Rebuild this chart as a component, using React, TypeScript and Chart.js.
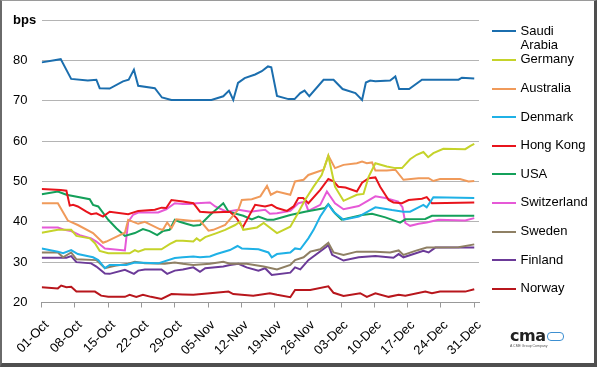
import React, { useEffect, useRef } from 'react';
import { Chart, registerables } from 'chart.js';
Chart.register(...registerables);

// x values are days after 01-Oct
const tickLabels = ['01-Oct', '08-Oct', '15-Oct', '22-Oct', '29-Oct', '05-Nov', '12-Nov', '19-Nov', '26-Nov', '03-Dec', '10-Dec', '17-Dec', '24-Dec', '31-Dec'];

const saudiArabia: [number, number][] = [[0, 79.5], [4, 80.3], [6.2, 75.4], [9.7, 75.0], [11.5, 75.2], [12.2, 73.1], [14.3, 73.0], [17.1, 74.8], [18.3, 75.2], [19.4, 77.7], [20.3, 73.7], [23.8, 73.1], [25.3, 70.8], [27.3, 70.2], [35.7, 70.2], [38.2, 71.1], [39.4, 72.5], [40.3, 70.2], [41.3, 74.4], [42.7, 75.6], [44.9, 76.5], [46.3, 77.3], [47.6, 78.5], [48.3, 78.3], [49.5, 71.2], [51.9, 70.4], [53.2, 70.4], [54.4, 71.9], [55.3, 72.5], [56.3, 71.1], [59.3, 75.2], [61.4, 75.2], [63.3, 72.9], [66, 71.9], [67.4, 70.2], [68.2, 74.5], [69.1, 75.0], [70.2, 74.8], [73.3, 75.0], [74.4, 76.0], [75.2, 72.9], [77.3, 72.9], [80, 75.2], [87.7, 75.2], [88.4, 75.7], [91, 75.5]];

const germany: [number, number][] = [[0, 37.3], [3.4, 38.0], [6.2, 38.0], [7.3, 36.5], [10.1, 35.9], [11.2, 34.7], [12.2, 32.8], [14, 32.2], [18.5, 32.2], [19.6, 33.0], [20.3, 32.6], [21.7, 33.2], [25.2, 33.2], [27, 34.5], [28.3, 35.3], [29.7, 35.3], [31.9, 35.1], [32.6, 35.9], [33.3, 35.3], [34.4, 36.2], [36.8, 37.2], [38.6, 38.0], [40.7, 39.2], [41.7, 40.0], [42.4, 38.0], [45.3, 38.6], [46.7, 39.7], [49.5, 37.2], [52.3, 38.8], [53.7, 41.7], [55.4, 45.4], [57.2, 48.7], [58.9, 51.6], [60.3, 56.3], [61.7, 48.7], [63.5, 45.2], [66.3, 46.7], [67.7, 46.9], [68.8, 51.2], [70.2, 54.5], [72.6, 53.7], [74.4, 53.3], [75.8, 53.3], [77.5, 55.5], [78.9, 56.6], [80.3, 57.3], [81.3, 56.0], [82.4, 57.0], [84.5, 58.1], [89.1, 58.0], [90.2, 58.8], [91, 59.3]];

const australia: [number, number][] = [[0, 44.6], [3.4, 44.6], [5.5, 40.3], [7.6, 39.2], [10.8, 37.2], [12.9, 34.8], [13.6, 35.1], [16.1, 36.5], [17.5, 37.3], [18.2, 40.5], [20.3, 39.5], [21.7, 40.0], [24.8, 38.2], [25.5, 38.0], [26.4, 39.8], [27.3, 38.4], [28.3, 40.6], [31.9, 40.2], [33.3, 40.3], [35.1, 37.8], [36.1, 38.0], [38.6, 39.2], [41.4, 43.1], [42.1, 45.4], [44.2, 45.6], [46, 46.3], [47.4, 48.9], [48.2, 46.7], [49.5, 47.5], [52.3, 46.7], [53.3, 50.0], [55.1, 50.4], [56.1, 51.6], [59.3, 52.9], [60.3, 56.4], [61.7, 53.3], [63.5, 54.1], [66.3, 54.5], [67.4, 54.9], [68.4, 54.5], [69.5, 54.7], [70.2, 52.7], [72.6, 52.7], [74.4, 52.9], [76.1, 50.4], [79.3, 50.8], [81.4, 50.8], [82.4, 50.1], [83.8, 50.6], [88, 50.6], [89.8, 50.0], [91, 50.1]];

const denmark: [number, number][] = [[0, 33.4], [3.4, 32.6], [4.5, 32.2], [6.2, 33.0], [7.6, 32.0], [10.8, 31.2], [11.9, 30.5], [13.3, 28.5], [14.3, 29.3], [17.8, 29.3], [19.6, 29.9], [24.5, 29.7], [28, 31.0], [29.7, 31.2], [31.9, 31.4], [33.3, 31.2], [35.4, 31.4], [36.8, 32.0], [39.6, 33.0], [41.2, 34.0], [42.1, 33.4], [45.6, 33.2], [47.7, 32.4], [48.4, 31.2], [49.5, 32.0], [52.3, 32.4], [53.3, 33.4], [54.4, 33.2], [56.1, 35.9], [57.2, 38.0], [58.6, 41.3], [60.3, 44.3], [61.4, 42.5], [63.5, 40.5], [66.7, 41.3], [70.2, 43.6], [73.7, 42.9], [76.1, 42.5], [77.5, 42.5], [80.3, 44.2], [81, 43.6], [82.4, 46.1], [91, 45.9]];

const hongKong: [number, number][] = [[0, 48.1], [4, 47.9], [5.2, 47.7], [5.9, 44.0], [6.6, 44.2], [7.6, 43.8], [9.4, 42.5], [10.4, 41.9], [11.5, 42.1], [12.9, 41.3], [14.3, 42.5], [18.2, 41.9], [20.3, 42.7], [23.8, 43.0], [25.2, 43.5], [26.2, 43.4], [27.3, 45.4], [29.7, 45.0], [31.9, 44.6], [33.3, 42.5], [35.4, 42.3], [39.6, 42.5], [41, 40.9], [42.3, 38.6], [44.9, 44.2], [47, 43.8], [48.4, 44.2], [49.5, 43.4], [51.6, 42.7], [53, 43.8], [54, 45.9], [55, 45.9], [56.1, 44.6], [58.6, 47.9], [60.3, 50.6], [61.4, 50.0], [62.4, 48.7], [63.9, 48.5], [66.3, 47.5], [67.4, 49.7], [68.8, 50.8], [70.2, 51.0], [71.2, 48.7], [73, 45.4], [74, 44.8], [75.8, 44.6], [77.2, 45.4], [80, 45.7], [81, 46.1], [82.1, 44.6], [91, 44.8]];

const usa: [number, number][] = [[0, 46.8], [3.4, 47.5], [5.2, 46.7], [10.1, 45.6], [10.8, 44.2], [11.9, 43.8], [14, 40.5], [15.7, 38.4], [17.5, 36.5], [19.6, 37.2], [21.3, 38.2], [22.7, 37.7], [24.3, 36.7], [25.5, 37.7], [26.9, 38.0], [28, 40.5], [29, 40.0], [30.4, 39.5], [31.9, 39.0], [33.3, 39.2], [35.4, 41.7], [38.2, 44.6], [39.3, 42.5], [42.4, 41.5], [44.2, 40.6], [45.6, 41.3], [47.4, 40.5], [48.8, 40.5], [52.3, 41.7], [55.4, 42.5], [59.6, 43.4], [60.3, 44.4], [61.7, 42.1], [63.1, 40.5], [67.4, 41.7], [69.5, 42.0], [72.3, 41.1], [75.4, 39.8], [76.5, 40.6], [80.7, 40.7], [82.1, 41.5], [91, 41.5]];

const switzerland: [number, number][] = [[0, 38.6], [3.4, 38.6], [4.8, 38.0], [6.2, 37.7], [8, 36.7], [10.4, 35.9], [11.5, 35.1], [13.3, 33.4], [17.5, 32.9], [18.2, 40.0], [19.2, 41.7], [20.3, 42.3], [24.5, 42.3], [26.2, 43.1], [28, 44.6], [29.7, 44.4], [31.2, 44.4], [32.6, 44.6], [35.4, 44.8], [36.5, 43.8], [38.9, 42.5], [41.4, 43.0], [43.9, 42.5], [47, 43.0], [48, 42.0], [49.5, 42.1], [52.3, 42.7], [54, 44.6], [55.4, 45.0], [56.1, 42.7], [58.6, 44.2], [60, 47.5], [61.7, 44.6], [63.5, 43.1], [66.7, 43.9], [70.2, 46.3], [72.3, 45.9], [75, 45.0], [75.9, 43.6], [76.5, 39.7], [77.5, 39.0], [79.3, 39.5], [81, 39.8], [83.5, 40.5], [89.1, 40.3], [91, 40.9]];

const sweden: [number, number][] = [[0, 32.4], [3.4, 32.4], [4.5, 31.2], [6.2, 32.4], [7.3, 30.7], [11.5, 30.5], [13.3, 28.5], [15.4, 29.1], [18.2, 29.6], [19.6, 30.1], [21.7, 29.7], [25.9, 29.6], [28, 29.9], [29.7, 29.6], [31.9, 29.3], [35.4, 29.6], [38.2, 30.1], [39.6, 29.6], [43.1, 29.6], [46.7, 28.9], [49.5, 28.2], [52.3, 29.3], [53.3, 30.5], [55.1, 31.2], [56.5, 32.6], [58.6, 33.2], [60.3, 34.8], [61.4, 32.4], [63.5, 31.8], [66.3, 32.6], [70.2, 32.6], [73.3, 32.4], [75.1, 32.9], [76.1, 31.8], [78.6, 32.8], [81, 33.6], [87.7, 33.7], [91, 34.4]];

const finland: [number, number][] = [[0, 31.1], [5.2, 31.1], [6.2, 31.5], [7.3, 30.0], [10.4, 29.7], [11.5, 28.9], [13.3, 27.2], [14.3, 27.1], [17.5, 28.1], [19.4, 27.1], [20.3, 27.9], [21.7, 28.2], [25.2, 28.2], [26.4, 27.1], [28, 27.9], [29.7, 28.2], [31.9, 28.7], [33.3, 27.6], [34.4, 28.5], [38.2, 28.9], [39.6, 29.3], [41.4, 29.6], [43.1, 28.7], [45.6, 27.9], [47, 28.5], [48.4, 26.8], [52.3, 27.4], [53.3, 28.7], [54.4, 28.2], [56.1, 30.5], [59.9, 33.8], [60.3, 34.3], [61.1, 31.8], [63.5, 30.4], [66.7, 31.2], [70.2, 31.5], [74, 31.1], [75.1, 32.0], [76.1, 31.2], [80.3, 32.8], [81.4, 32.4], [82.8, 33.6], [91, 33.6]];

const norway: [number, number][] = [[0, 23.8], [3.4, 23.5], [4.1, 24.2], [5.2, 23.8], [6.2, 23.9], [7.3, 22.7], [11.2, 22.7], [12.5, 21.7], [14, 21.4], [17.5, 21.4], [18.5, 21.9], [19.9, 21.4], [21.3, 21.9], [23, 21.4], [25.2, 20.9], [27.3, 22.1], [29.7, 22.0], [31.9, 21.9], [35.4, 22.3], [39.3, 22.7], [40.3, 22.1], [44.5, 21.7], [48, 22.3], [49.5, 21.9], [52.3, 21.3], [53.3, 23.1], [56.5, 23.1], [60.3, 24.0], [61.4, 22.4], [63.5, 21.6], [67, 22.3], [68.4, 21.4], [70.2, 22.3], [73, 21.4], [75.1, 21.9], [76.5, 21.7], [80.7, 22.7], [82.1, 22.3], [83.8, 22.7], [89.1, 22.7], [91, 23.3]];

const seriesNames = ['Saudi Arabia', 'Germany', 'Australia', 'Denmark', 'Hong Kong', 'USA', 'Switzerland', 'Sweden', 'Finland', 'Norway'];
const seriesData = [saudiArabia, germany, australia, denmark, hongKong, usa, switzerland, sweden, finland, norway];
const seriesColors = ['#1b6eae', '#c5d32a', '#f09a5a', '#1fb1e6', '#e8141c', '#14a05a', '#e659d7', '#8f8064', '#6b3a98', '#b8161c'];

const FONT = "'Liberation Sans', Arial, sans-serif";

export default function App() {
  const ref = useRef<HTMLCanvasElement>(null);
  useEffect(() => {
    document.body.style.margin = '0';
    const chart = new Chart(ref.current as HTMLCanvasElement, {
      type: 'line',
      data: {
        datasets: seriesNames.map((name, i) => ({
          label: name,
          data: seriesData[i].map(([x, y]) => ({ x, y })),
          borderColor: seriesColors[i],
          backgroundColor: seriesColors[i],
          borderWidth: 2,
          pointRadius: 0,
          tension: 0,
          fill: false,
        })),
      },
      options: {
        animation: false,
        responsive: false,
        layout: { padding: { left: 13, top: 20, right: 118, bottom: 0 } },
        plugins: { legend: { display: false }, tooltip: { enabled: false } },
        scales: {
          x: {
            type: 'linear',
            min: 0,
            max: 92,
            afterBuildTicks: (s: any) => {
              s.ticks = tickLabels.map((_, i) => ({ value: i * 7 }));
            },
            afterFit: (s: any) => {
              s.height = 64.5;
              s.paddingLeft = 0;
              s.paddingRight = 0;
            },
            grid: { drawOnChartArea: false, tickLength: 5, color: '#999999' },
            border: { display: true, color: '#999999' },
            ticks: {
              autoSkip: false,
              maxRotation: 45,
              minRotation: 45,
              labelOffset: 5,
              padding: 10,
              color: '#000',
              font: { family: FONT, size: 13 },
              callback: (v: any) => tickLabels[Math.round(Number(v) / 7)],
            },
          },
          y: {
            min: 20,
            max: 90,
            afterFit: (s: any) => {
              s.width = 28.7;
              s.paddingTop = 0;
              s.paddingBottom = 0;
            },
            grid: { color: '#b4b4b4', drawTicks: false },
            border: { display: false },
            ticks: {
              stepSize: 10,
              crossAlign: 'far',
              color: '#000',
              font: (ctx: any) => ({
                family: FONT,
                size: 13,
                weight: ctx.tick && ctx.tick.value === 90 ? 'bold' : 'normal',
              }),
              callback: (v: any) => (Number(v) === 90 ? 'bps' : String(v)),
            },
          },
        },
      },
    } as any);
    return () => chart.destroy();
  }, []);

  const legendTop = 31.3;
  const legendStep = 28.6;

  return (
    <div style={{ position: 'relative', width: 597, height: 367, background: '#fff', fontFamily: FONT, overflow: 'hidden' }}>
      <canvas ref={ref} width={597} height={367} style={{ position: 'absolute', left: 0, top: 0 }} />
      {seriesNames.map((name, i) => {
        const y = legendTop + i * legendStep;
        return (
          <React.Fragment key={name}>
            <div style={{ position: 'absolute', left: 491.5, top: y - 1, width: 24.5, height: 2, background: seriesColors[i] }} />
            <div
              style={{
                position: 'absolute',
                left: 520.5,
                top: y - 7.5,
                width: i === 0 ? 60 : 75,
                fontSize: 13,
                lineHeight: '14px',
                color: '#000',
                whiteSpace: i === 0 ? 'normal' : 'nowrap',
              }}
            >
              {name}
            </div>
          </React.Fragment>
        );
      })}
      <div style={{ position: 'absolute', left: 510, top: 328, display: 'flex', alignItems: 'center' }}>
        <span style={{ fontFamily: "'DejaVu Sans', Arial, sans-serif", fontWeight: 'bold', fontSize: 16, color: '#222', letterSpacing: -0.5, lineHeight: '15px' }}>cma</span>
        <span style={{ display: 'inline-block', width: 15, height: 7, border: '1.5px solid #3d8fd1', borderRadius: 4, marginLeft: 2, marginTop: 2 }} />
      </div>
      <div style={{ position: 'absolute', left: 510, top: 344, fontSize: 3.5, color: '#555', whiteSpace: 'nowrap' }}>A CME Group Company</div>
      <div
        style={{
          position: 'absolute',
          left: 0,
          top: 0,
          width: 597,
          height: 367,
          boxSizing: 'border-box',
          borderTop: '1px solid #9a9a9a',
          borderLeft: '2px solid #6a6a6a',
          borderRight: '3px solid #4f4f4f',
          borderBottom: '4px solid #4f4f4f',
          pointerEvents: 'none',
        }}
      />
    </div>
  );
}
